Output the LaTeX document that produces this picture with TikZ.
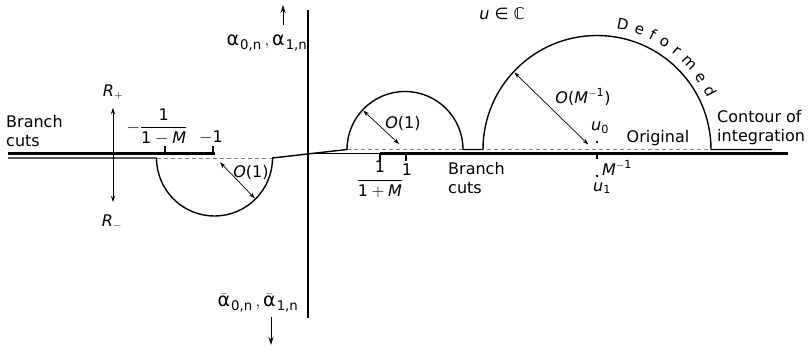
\documentclass[tikz,border=0pt]{standalone}
\usepackage{amsmath,amssymb}
\usepackage{fontspec}
\setmainfont{DejaVu Sans}
\usetikzlibrary{arrows.meta,decorations.text}
\newcommand{\ivar}[1]{\textit{#1}}
\newcommand{\up}[1]{\text{#1}}

\begin{document}
\begin{tikzpicture}[x=1pt,y=1pt,font=\fontsize{16}{19}\selectfont,
      lab/.style={inner sep=1pt},
      big/.style={lab,font=\fontsize{19}{22}\selectfont},
      cut/.style={line width=2.2pt},
      cont/.style={line width=1.4pt,line join=round},
      orig/.style={gray,line width=.8pt,dash pattern=on 4pt off 3pt},
      a/.style={-{Stealth[length=8pt,width=5pt]},line width=.9pt},
      aa/.style={{Stealth[length=6pt,width=4pt]}-{Stealth[length=6pt,width=4pt]},line width=.7pt}]
      \useasboundingbox (0,0) rectangle (812,347);
      % centres of the three bumps
      \coordinate (cL) at (214.5,189);
      \coordinate (cM) at (405,197.5);
      \coordinate (cR) at (597,197.5);
      % imaginary axis
      \draw[line width=1.1pt] (308,29) -- (308,337);
      % real axis, branch cuts and ticks
      \draw[cut] (8,193.5) -- (215,193.5);
      \draw[line width=.8pt] (308,193.5) -- (380,193.5);
      \draw[cut] (380,193.5) -- (788,193.5);
      \draw[line width=1.2pt] (165,193.5) -- ++(0,7) (213,193.5) -- ++(0,7);
      \draw[line width=1.6pt] (380,193.5) -- ++(0,-8) (406,193.5) -- ++(0,-8) (597,193.5) -- ++(0,-6);
      % original and deformed contours
      \draw[orig] (156.5,189) -- (272.5,189);
      \draw[orig] (347,197.5) -- (711,197.5);
      \draw[cont] (8,189) -- (156.5,189) arc[start angle=180,end angle=360,radius=58]
        -- (347,197.5) arc[start angle=180,end angle=0,radius=58]
        -- (483,197.5) arc[start angle=180,end angle=0,radius=114] -- (772,197.5);
      \draw[aa] ([shift={(-38:7)}]cL) -- ([shift={(-45:57)}]cL);
      \draw[aa] ([shift={(137:8)}]cM) -- ([shift={(137:57)}]cM);
      \draw[aa] ([shift={(150:10)}]cR) -- ([shift={(137:113)}]cR);
      \path[decorate,decoration={text along path,text align=fit to path,
        text={|\fontsize{15}{18}\selectfont|Deformed}}]
        ([shift={(81:122)}]cR) arc[start angle=81,end angle=25,radius=122];
      % labels
      \node[lab,align=left,anchor=west] (brL) at (5,216) {Branch\\cuts};
      \node[lab] (Rp) at (113,255) {$\ivar{R}_+$};
      \node[lab] (Rm) at (112,125) {$\ivar{R}_-$};
      \coordinate (rT) at (113,239);
      \coordinate (rB) at (113,145);
      \draw[aa] (rB) -- (rT);
      \node[lab] (mfrac) at (157,220) {$-\dfrac{\up{1}}{\up{1}-\ivar{M}}$};
      \node[lab] (mone) at (211,210) {$-\up{1}$};
      \node[lab] (OL) at (251,175) {\ivar{O}(1)};
      \node[lab] (OM) at (403,224) {\ivar{O}(1)};
      \node[lab] (pfrac) at (380,168) {$\dfrac{\up{1}}{\up{1}+\ivar{M}}$};
      \node[lab] (one) at (407,177) {1};
      \node[lab,align=left,anchor=west] (brM) at (447,169) {Branch\\cuts};
      \node[lab] (uC) at (502,333) {\ivar{u} ∈ ℂ};
      \node[lab] (OR) at (583,250) {\ivar{O}($\ivar{M}^{-\up{1}}$)};
      \node[lab] (u0) at (600,219) {$\ivar{u}_{\up{0}}$};
      \fill (597,205) circle (1.3);
      \node[lab] (Mi) at (617,179) {$\ivar{M}^{-\up{1}}$};
      \fill (597,171) circle (1.3);
      \node[lab] (u1) at (602,159) {$\ivar{u}_{\up{1}}$};
      \node[lab] (orig) at (658,209) {Original};
      \node[lab,align=left,anchor=west] (contr) at (716,219) {Contour of\\integration};
      \node[big] (alp) at (267,304) {$\up{α}_{\kern1pt\up{0,n}}\,,\up{α}_{\kern1pt\up{1,n}}$};
      \node[big] (alpb) at (258,44) {$\bar{\up{α}}_{\kern1pt\up{0,n}}\,,\bar{\up{α}}_{\kern1pt\up{1,n}}$};
      \coordinate (aB) at (283,322);
      \coordinate (aT) at (283,342);
      \draw[a] (aB) -- (aT);
      \coordinate (dT) at (271,30);
      \coordinate (dB) at (271,2);
      \draw[a] (dT) -- (dB);
    \end{tikzpicture}
\end{document}
